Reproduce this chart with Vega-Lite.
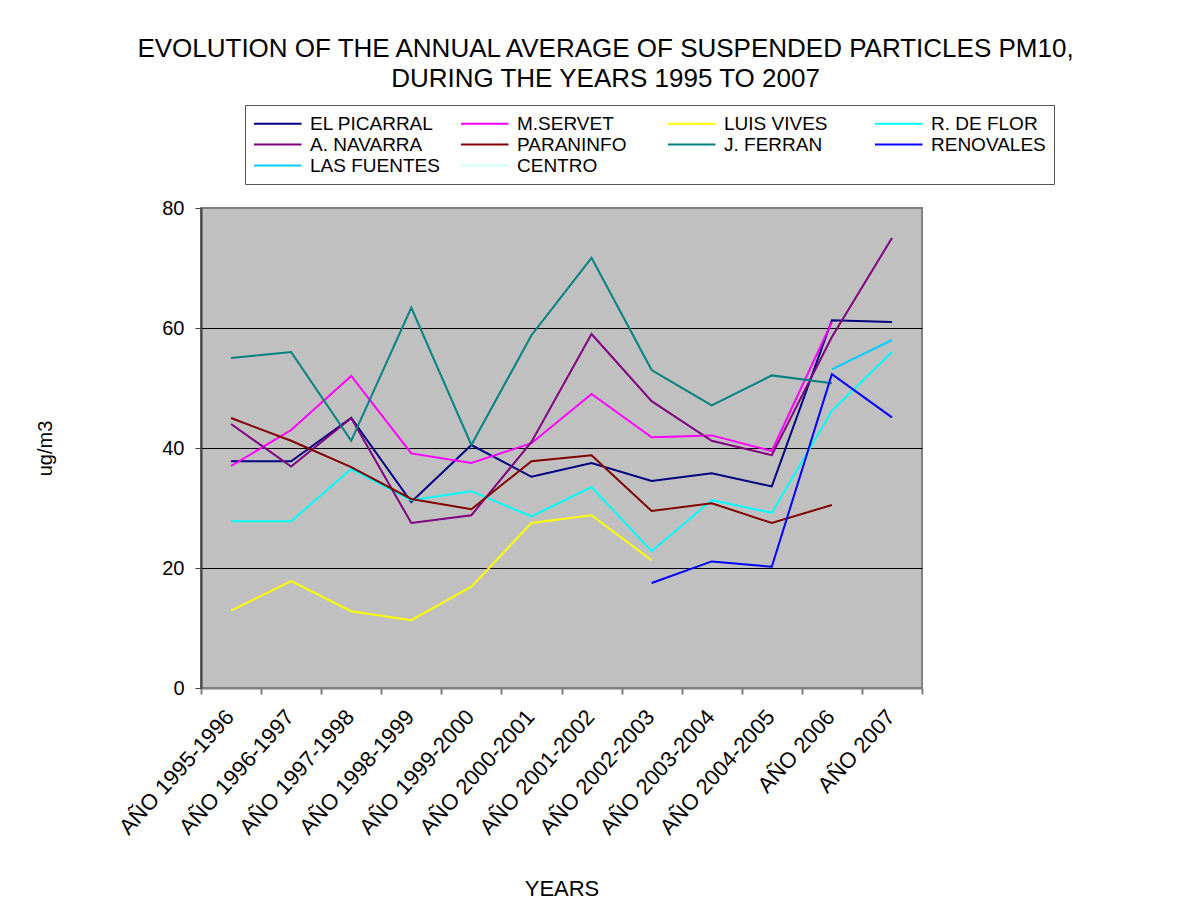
{
  "$schema": "https://vega.github.io/schema/vega-lite/v6.json",
  "autosize": "none",
  "width": 721,
  "height": 480,
  "padding": {"left": 201, "top": 208, "right": 279, "bottom": 225},
  "background": "white",
  "title": {
    "text": ["EVOLUTION OF THE ANNUAL AVERAGE OF SUSPENDED PARTICLES PM10,", "DURING THE YEARS 1995 TO 2007"],
    "anchor": "middle",
    "font": "Liberation Sans",
    "fontSize": 26,
    "fontWeight": "normal",
    "lineHeight": 30,
    "offset": 13,
    "dx": 44,
    "color": "black"
  },
  "config": {
    "view": {"fill": "#C0C0C0", "stroke": "#808080", "strokeWidth": 2},
    "font": "Liberation Sans"
  },
  "data": {
    "values": [
      {"s": "EL PICARRAL", "y": "AÑO 1995-1996", "v": 37.8},
      {"s": "EL PICARRAL", "y": "AÑO 1996-1997", "v": 37.8},
      {"s": "EL PICARRAL", "y": "AÑO 1997-1998", "v": 45},
      {"s": "EL PICARRAL", "y": "AÑO 1998-1999", "v": 31},
      {"s": "EL PICARRAL", "y": "AÑO 1999-2000", "v": 40.5},
      {"s": "EL PICARRAL", "y": "AÑO 2000-2001", "v": 35.2},
      {"s": "EL PICARRAL", "y": "AÑO 2001-2002", "v": 37.5},
      {"s": "EL PICARRAL", "y": "AÑO 2002-2003", "v": 34.5},
      {"s": "EL PICARRAL", "y": "AÑO 2003-2004", "v": 35.8},
      {"s": "EL PICARRAL", "y": "AÑO 2004-2005", "v": 33.6},
      {"s": "EL PICARRAL", "y": "AÑO 2006", "v": 61.3},
      {"s": "EL PICARRAL", "y": "AÑO 2007", "v": 61},
      {"s": "M.SERVET", "y": "AÑO 1995-1996", "v": 37},
      {"s": "M.SERVET", "y": "AÑO 1996-1997", "v": 43},
      {"s": "M.SERVET", "y": "AÑO 1997-1998", "v": 52},
      {"s": "M.SERVET", "y": "AÑO 1998-1999", "v": 39.1},
      {"s": "M.SERVET", "y": "AÑO 1999-2000", "v": 37.5},
      {"s": "M.SERVET", "y": "AÑO 2000-2001", "v": 40.8},
      {"s": "M.SERVET", "y": "AÑO 2001-2002", "v": 49},
      {"s": "M.SERVET", "y": "AÑO 2002-2003", "v": 41.8},
      {"s": "M.SERVET", "y": "AÑO 2003-2004", "v": 42.1},
      {"s": "M.SERVET", "y": "AÑO 2004-2005", "v": 39.5},
      {"s": "M.SERVET", "y": "AÑO 2006", "v": 61},
      {"s": "LUIS VIVES", "y": "AÑO 1995-1996", "v": 12.9},
      {"s": "LUIS VIVES", "y": "AÑO 1996-1997", "v": 17.8},
      {"s": "LUIS VIVES", "y": "AÑO 1997-1998", "v": 12.8},
      {"s": "LUIS VIVES", "y": "AÑO 1998-1999", "v": 11.3},
      {"s": "LUIS VIVES", "y": "AÑO 1999-2000", "v": 16.9},
      {"s": "LUIS VIVES", "y": "AÑO 2000-2001", "v": 27.5},
      {"s": "LUIS VIVES", "y": "AÑO 2001-2002", "v": 28.8},
      {"s": "LUIS VIVES", "y": "AÑO 2002-2003", "v": 21.3},
      {"s": "R. DE FLOR", "y": "AÑO 1995-1996", "v": 27.8},
      {"s": "R. DE FLOR", "y": "AÑO 1996-1997", "v": 27.8},
      {"s": "R. DE FLOR", "y": "AÑO 1997-1998", "v": 36.5},
      {"s": "R. DE FLOR", "y": "AÑO 1998-1999", "v": 31.3},
      {"s": "R. DE FLOR", "y": "AÑO 1999-2000", "v": 32.8},
      {"s": "R. DE FLOR", "y": "AÑO 2000-2001", "v": 28.6},
      {"s": "R. DE FLOR", "y": "AÑO 2001-2002", "v": 33.5},
      {"s": "R. DE FLOR", "y": "AÑO 2002-2003", "v": 22.8},
      {"s": "R. DE FLOR", "y": "AÑO 2003-2004", "v": 31.3},
      {"s": "R. DE FLOR", "y": "AÑO 2004-2005", "v": 29.2},
      {"s": "R. DE FLOR", "y": "AÑO 2006", "v": 46.2},
      {"s": "R. DE FLOR", "y": "AÑO 2007", "v": 56},
      {"s": "A. NAVARRA", "y": "AÑO 1995-1996", "v": 44},
      {"s": "A. NAVARRA", "y": "AÑO 1996-1997", "v": 36.9},
      {"s": "A. NAVARRA", "y": "AÑO 1997-1998", "v": 45},
      {"s": "A. NAVARRA", "y": "AÑO 1998-1999", "v": 27.5},
      {"s": "A. NAVARRA", "y": "AÑO 1999-2000", "v": 28.8},
      {"s": "A. NAVARRA", "y": "AÑO 2000-2001", "v": 41},
      {"s": "A. NAVARRA", "y": "AÑO 2001-2002", "v": 59},
      {"s": "A. NAVARRA", "y": "AÑO 2002-2003", "v": 47.8},
      {"s": "A. NAVARRA", "y": "AÑO 2003-2004", "v": 41.2},
      {"s": "A. NAVARRA", "y": "AÑO 2004-2005", "v": 38.8},
      {"s": "A. NAVARRA", "y": "AÑO 2006", "v": 58.5},
      {"s": "A. NAVARRA", "y": "AÑO 2007", "v": 75},
      {"s": "PARANINFO", "y": "AÑO 1995-1996", "v": 45},
      {"s": "PARANINFO", "y": "AÑO 1996-1997", "v": 41.2},
      {"s": "PARANINFO", "y": "AÑO 1997-1998", "v": 36.8},
      {"s": "PARANINFO", "y": "AÑO 1998-1999", "v": 31.5},
      {"s": "PARANINFO", "y": "AÑO 1999-2000", "v": 29.8},
      {"s": "PARANINFO", "y": "AÑO 2000-2001", "v": 37.8},
      {"s": "PARANINFO", "y": "AÑO 2001-2002", "v": 38.8},
      {"s": "PARANINFO", "y": "AÑO 2002-2003", "v": 29.5},
      {"s": "PARANINFO", "y": "AÑO 2003-2004", "v": 30.8},
      {"s": "PARANINFO", "y": "AÑO 2004-2005", "v": 27.5},
      {"s": "PARANINFO", "y": "AÑO 2006", "v": 30.5},
      {"s": "J. FERRAN", "y": "AÑO 1995-1996", "v": 55},
      {"s": "J. FERRAN", "y": "AÑO 1996-1997", "v": 56},
      {"s": "J. FERRAN", "y": "AÑO 1997-1998", "v": 41.2},
      {"s": "J. FERRAN", "y": "AÑO 1998-1999", "v": 63.4},
      {"s": "J. FERRAN", "y": "AÑO 1999-2000", "v": 40.5},
      {"s": "J. FERRAN", "y": "AÑO 2000-2001", "v": 58.8},
      {"s": "J. FERRAN", "y": "AÑO 2001-2002", "v": 71.7},
      {"s": "J. FERRAN", "y": "AÑO 2002-2003", "v": 53},
      {"s": "J. FERRAN", "y": "AÑO 2003-2004", "v": 47.1},
      {"s": "J. FERRAN", "y": "AÑO 2004-2005", "v": 52.1},
      {"s": "J. FERRAN", "y": "AÑO 2006", "v": 50.8},
      {"s": "RENOVALES", "y": "AÑO 2002-2003", "v": 17.5},
      {"s": "RENOVALES", "y": "AÑO 2003-2004", "v": 21.1},
      {"s": "RENOVALES", "y": "AÑO 2004-2005", "v": 20.2},
      {"s": "RENOVALES", "y": "AÑO 2006", "v": 52.3},
      {"s": "RENOVALES", "y": "AÑO 2007", "v": 45.1},
      {"s": "LAS FUENTES", "y": "AÑO 2006", "v": 53.1},
      {"s": "LAS FUENTES", "y": "AÑO 2007", "v": 58}
    ]
  },
  "mark": {"type": "line", "strokeWidth": 2},
  "encoding": {
    "x": {
      "field": "y",
      "type": "nominal",
      "sort": null,
      "scale": {"type": "band", "paddingInner": 0, "paddingOuter": 0},
      "axis": {
        "title": "YEARS",
        "titleFont": "Liberation Sans",
        "titleFontSize": 22,
        "titleFontWeight": "normal",
        "titleColor": "black",
        "titleY": 200,
        "titleBaseline": "middle",
        "labelAngle": -48,
        "labelAlign": "right",
        "labelBaseline": "top",
        "labelPadding": 12,
        "labelOffset": -9,
        "labelFontSize": 22,
        "labelColor": "black",
        "labelFont": "Liberation Sans",
        "tickBand": "extent",
        "tickSize": 6,
        "tickColor": "#808080",
        "tickWidth": 2,
        "domainColor": "#808080",
        "domainWidth": 2,
        "grid": false
      }
    },
    "y": {
      "field": "v",
      "type": "quantitative",
      "scale": {"domain": [0, 80], "nice": false},
      "axis": {
        "title": "ug/m3",
        "titleFont": "Liberation Sans",
        "titleFontSize": 20,
        "titleFontWeight": "normal",
        "titleColor": "black",
        "titleX": -156,
        "titleY": 240,
        "titleAngle": -90,
        "titleAlign": "center",
        "titleBaseline": "middle",
        "values": [0, 20, 40, 60, 80],
        "labelFontSize": 20,
        "labelColor": "black",
        "labelPadding": 11,
        "tickSize": 6,
        "tickColor": "#404040",
        "domainColor": "#404040",
        "domainWidth": 2,
        "grid": true,
        "gridColor": {"condition": {"test": "datum.value == 80 || datum.value == 0", "value": "transparent"}, "value": "black"},
        "gridWidth": 1.2
      }
    },
    "color": {
      "field": "s",
      "type": "nominal",
      "scale": {
        "domain": ["EL PICARRAL", "M.SERVET", "LUIS VIVES", "R. DE FLOR", "A. NAVARRA", "PARANINFO", "J. FERRAN", "RENOVALES", "LAS FUENTES", "CENTRO"],
        "range": ["#000080", "#FF00FF", "#FFFF00", "#00FFFF", "#800080", "#800000", "#008080", "#0000FF", "#00CCFF", "#CCFFFF"]
      },
      "legend": {
        "title": null,
        "orient": "none",
        "legendX": 44,
        "legendY": -103,
        "direction": "horizontal",
        "columns": 4,
        "gridAlign": "all",
        "columnPadding": 17,
        "rowPadding": 0,
        "symbolType": "M-1,0H4",
        "symbolSize": 361,
        "symbolStrokeWidth": 2,
        "labelFontSize": 19,
        "labelFont": "Liberation Sans",
        "labelColor": "black",
        "labelOffset": 36,
        "labelLimit": 300,
        "padding": 8,
        "strokeColor": "#555555",
        "fillColor": "white"
      }
    }
  }
}
